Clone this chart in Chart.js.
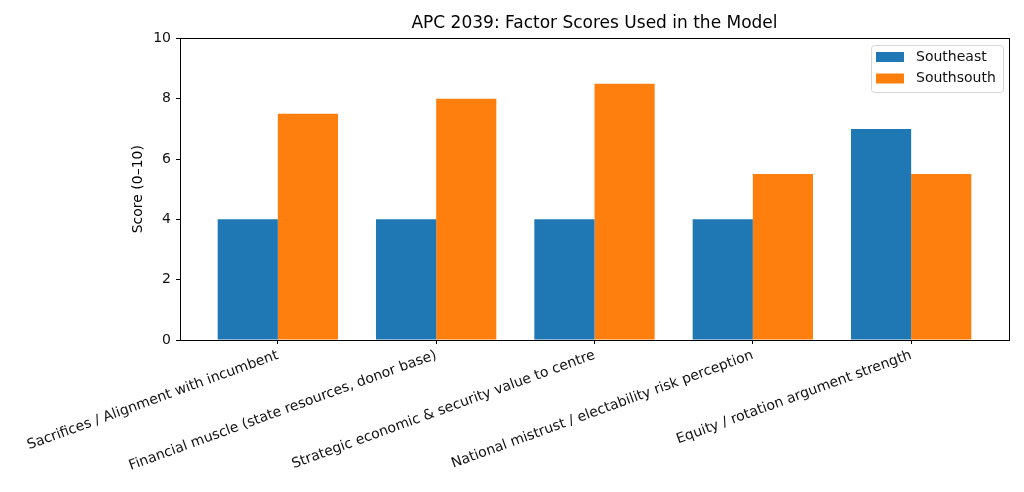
<!DOCTYPE html>
<html>
<head>
<meta charset="utf-8">
<script src="https://cdn.jsdelivr.net/npm/chart.js@4/dist/chart.umd.min.js"></script>
<style>
  html, body { margin: 0; padding: 0; background: #fff; }
  #wrap { width: 1024px; height: 492px; }
</style>
</head>
<body>
<div id="wrap"><canvas id="chart"></canvas></div>
<script>
// Factor names and scores
const categories = [
  "Sacrifices / Alignment with incumbent",
  "Financial muscle (state resources, donor base)",
  "Strategic economic & security value to centre",
  "National mistrust / electability risk perception",
  "Equity / rotation argument strength"
];
const southeast = [4, 4, 4, 4, 7];
const southsouth = [7.5, 8, 8.5, 5.5, 5.5];
const yTicks = [0, 2, 4, 6, 8, 10];

const seriesNames = ["Southeast", "Southsouth"];
const seriesColors = ["#1f77b4", "#ff7f0e"];
const FONT = "'DejaVu Sans', sans-serif";

// Box around the plot area (matplotlib style spines)
const frame = {
  id: "frame",
  afterDatasetsDraw(chart) {
    const { ctx, chartArea: a } = chart;
    ctx.save();
    ctx.strokeStyle = "#000";
    ctx.lineWidth = 1;
    ctx.strokeRect(Math.round(a.left) + 0.5, Math.round(a.top) + 0.5,
      Math.round(a.right - a.left), Math.round(a.bottom - a.top));
    ctx.restore();
  }
};

// Legend box in the upper right of the plot
const boxLegend = {
  id: "boxLegend",
  afterDraw(chart) {
    const { ctx, chartArea: a } = chart;
    const w = 132, h = 47;
    const x = Math.round(a.right) - 6 - w, y = Math.round(a.top) + 7;
    ctx.save();
    ctx.fillStyle = "rgba(255,255,255,0.8)";
    ctx.strokeStyle = "#d6d6d6";
    ctx.lineWidth = 1;
    ctx.beginPath();
    ctx.roundRect(x + 0.5, y + 0.5, w, h, 3);
    ctx.fill();
    ctx.stroke();
    ctx.font = "14px " + FONT;
    ctx.textBaseline = "middle";
    chart.data.datasets.forEach((ds, i) => {
      const cy = y + 12 + i * 21.5;
      ctx.fillStyle = ds.backgroundColor;
      ctx.fillRect(x + 5, cy - 5, 28, 10);
      ctx.fillStyle = "#111";
      ctx.fillText(ds.label, x + 45, cy);
    });
    ctx.restore();
  }
};

const ctx = document.getElementById("chart").getContext("2d");
new Chart(ctx, {
  type: "bar",
  data: {
    datasets: [
      {
        label: seriesNames[0],
        data: southeast.map((v, i) => ({ x: i, y: v })),
        backgroundColor: seriesColors[0]
      },
      {
        label: seriesNames[1],
        data: southsouth.map((v, i) => ({ x: i, y: v })),
        backgroundColor: seriesColors[1]
      }
    ]
  },
  options: {
    responsive: true,
    maintainAspectRatio: false,
    animation: false,
    layout: { padding: { left: 130, right: 15, top: 4, bottom: 0 } },
    datasets: { bar: { categoryPercentage: 0.76, barPercentage: 1.0 } },
    plugins: {
      legend: { display: false },
      tooltip: { enabled: false },
      title: {
        display: true,
        fullSize: false,
        text: "APC 2039: Factor Scores Used in the Model",
        color: "#000",
        font: { family: FONT, size: 17, weight: "normal" },
        padding: { top: 9, bottom: 5 }
      }
    },
    scales: {
      x: {
        type: "linear",
        min: -0.618,
        max: 4.618,
        offset: false,
        afterBuildTicks: (axis) => { axis.ticks = categories.map((c, i) => ({ value: i })); },
        afterFit: (axis) => { axis.height = 152; },
        border: { display: true, color: "#000", width: 1 },
        grid: { display: true, offset: false, drawOnChartArea: false, drawTicks: true, tickLength: 4, color: "#000" },
        ticks: {
          autoSkip: false,
          minRotation: 20,
          maxRotation: 20,
          color: "#111",
          padding: 3,
          font: { family: FONT, size: 14 },
          callback: (v) => categories[v]
        }
      },
      y: {
        min: 0,
        max: 10,
        afterBuildTicks: (axis) => { axis.ticks = yTicks.map((v) => ({ value: v })); },
        afterFit: (axis) => { axis.width = 50; },
        border: { display: true, color: "#000", width: 1 },
        grid: { display: true, drawOnChartArea: false, drawTicks: true, tickLength: 4, color: "#000" },
        title: {
          display: true,
          text: "Score (0–10)",
          color: "#000",
          font: { family: FONT, size: 14 },
          padding: { top: 0, bottom: 4 }
        },
        ticks: {
          color: "#111",
          padding: 5,
          font: { family: FONT, size: 14 }
        }
      }
    }
  },
  plugins: [frame, boxLegend]
});
</script>
</body>
</html>
